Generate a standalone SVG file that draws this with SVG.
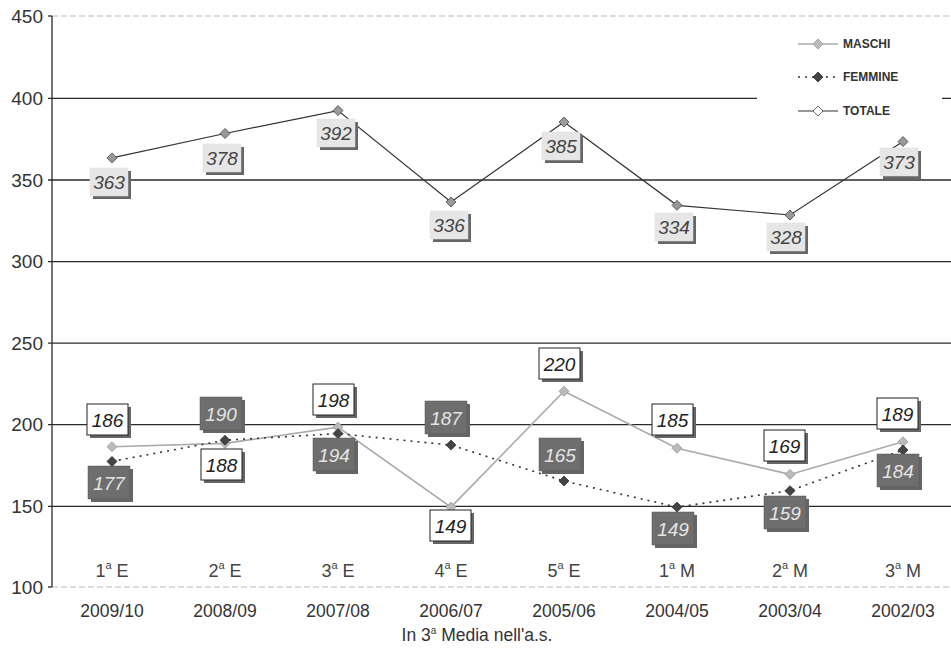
<svg xmlns="http://www.w3.org/2000/svg" width="951" height="648" viewBox="0 0 951 648">
<style>
.grid{stroke:#2a2a2a;stroke-width:1.3;fill:none}
.faint{stroke:#bbb;stroke-width:1;stroke-dasharray:6 3;fill:none}
.ylab{font-family:"Liberation Sans",Arial,sans-serif;font-size:19px;fill:#333;text-anchor:end}
.cat{font-family:"Liberation Sans",Arial,sans-serif;font-size:18px;fill:#444;text-anchor:middle}
.yr{font-family:"Liberation Sans",Arial,sans-serif;font-size:17.5px;fill:#333;text-anchor:middle}
.leg{font-family:"Liberation Sans",Arial,sans-serif;font-size:12px;font-weight:bold;fill:#333}
.val{font-family:"Liberation Sans",Arial,sans-serif;font-size:19px;font-style:italic;text-anchor:middle}
.shadow{fill:#666}
.bt{fill:#e6e6e6;stroke:#ddd;stroke-width:0.5}
.bm{fill:#fff;stroke:#222;stroke-width:1}
.bf{fill:#6e6e6e;stroke:#5a5a5a;stroke-width:0.5}
.tt{fill:#444}
.tm{fill:#222}
.tf{fill:#e4e4e4}
.lt{stroke:#333;stroke-width:1.2;fill:none}
.lm{stroke:#aaa;stroke-width:1.6;fill:none}
.lf{stroke:#333;stroke-width:1.6;stroke-dasharray:2 5;fill:none}
.mt{fill:#999;stroke:#444;stroke-width:0.8}
.mm{fill:#bbb;stroke:#999;stroke-width:0.8}
.mf{fill:#444;stroke:#333;stroke-width:0.8}
</style>
<defs>
<path id="dia" d="M0,-5 L5,0 L0,5 L-5,0 Z"/>
</defs>
<rect x="0" y="0" width="951" height="648" fill="#fff"/>
<g id="axes">
<line class="faint" x1="52" y1="16" x2="951" y2="16"/>
<line class="faint" x1="52" y1="587" x2="951" y2="587"/>
<line class="grid" x1="48" y1="98.4" x2="951" y2="98.4"/>
<line class="grid" x1="48" y1="180" x2="951" y2="180"/>
<line class="grid" x1="48" y1="261.6" x2="951" y2="261.6"/>
<line class="grid" x1="48" y1="343.1" x2="951" y2="343.1"/>
<line class="grid" x1="48" y1="424.7" x2="951" y2="424.7"/>
<line class="grid" x1="48" y1="506.3" x2="951" y2="506.3"/>
<line class="grid" x1="48" y1="16" x2="52" y2="16"/>
<line class="grid" x1="48" y1="587" x2="52" y2="587"/>
<line class="grid" x1="52" y1="16" x2="52" y2="587"/>
<text class="ylab" x="43" y="23">450</text>
<text class="ylab" x="43" y="105">400</text>
<text class="ylab" x="43" y="187">350</text>
<text class="ylab" x="43" y="268">300</text>
<text class="ylab" x="43" y="350">250</text>
<text class="ylab" x="43" y="431">200</text>
<text class="ylab" x="43" y="513">150</text>
<text class="ylab" x="43" y="594">100</text>
<text class="cat" x="112" y="577">1<tspan font-size="11" dy="-8">a</tspan><tspan dy="8"> E</tspan></text>
<text class="cat" x="225" y="577">2<tspan font-size="11" dy="-8">a</tspan><tspan dy="8"> E</tspan></text>
<text class="cat" x="338" y="577">3<tspan font-size="11" dy="-8">a</tspan><tspan dy="8"> E</tspan></text>
<text class="cat" x="451" y="577">4<tspan font-size="11" dy="-8">a</tspan><tspan dy="8"> E</tspan></text>
<text class="cat" x="564" y="577">5<tspan font-size="11" dy="-8">a</tspan><tspan dy="8"> E</tspan></text>
<text class="cat" x="677" y="577">1<tspan font-size="11" dy="-8">a</tspan><tspan dy="8"> M</tspan></text>
<text class="cat" x="790" y="577">2<tspan font-size="11" dy="-8">a</tspan><tspan dy="8"> M</tspan></text>
<text class="cat" x="903" y="577">3<tspan font-size="11" dy="-8">a</tspan><tspan dy="8"> M</tspan></text>
<text class="yr" x="112" y="617">2009/10</text>
<text class="yr" x="225" y="617">2008/09</text>
<text class="yr" x="338" y="617">2007/08</text>
<text class="yr" x="451" y="617">2006/07</text>
<text class="yr" x="564" y="617">2005/06</text>
<text class="yr" x="677" y="617">2004/05</text>
<text class="yr" x="790" y="617">2003/04</text>
<text class="yr" x="903" y="617">2002/03</text>
<text class="yr" x="477" y="641">In 3<tspan font-size="10" dy="-7">a</tspan><tspan dy="7"> Media nell'a.s.</tspan></text>
</g>
<g id="legend">
<rect x="757" y="22" width="185" height="106" fill="#fff"/>
<line class="lm" x1="798" y1="44" x2="838" y2="44"/>
<use href="#dia" x="818" y="44" class="mm"/>
<text class="leg" x="843" y="48">MASCHI</text>
<line class="lf" x1="798" y1="77" x2="838" y2="77"/>
<use href="#dia" x="818" y="77" class="mf"/>
<text class="leg" x="843" y="81">FEMMINE</text>
<line class="lt" x1="798" y1="111" x2="838" y2="111"/>
<use href="#dia" x="818" y="111" fill="#fff" stroke="#444" stroke-width="0.8"/>
<text class="leg" x="843" y="115">TOTALE</text>
</g>
<g id="connectors">
<polyline class="lt" points="112,157.9 225,133.5 338,110.6 451,202 564,122.1 677,205.3 790,215 903,141.6"/>
<polyline class="lm" points="112,446.7 225,443.4 338,427.1 451,507.1 564,391.2 677,448.3 790,474.4 903,441.8"/>
<polyline class="lf" points="112,461.4 225,440.2 338,433.6 451,445.1 564,481 677,507.1 790,490.7 903,450"/>
</g>
<g id="markers">
<use href="#dia" class="mt" x="112" y="157.9"/><use href="#dia" class="mt" x="225" y="133.5"/><use href="#dia" class="mt" x="338" y="110.6"/><use href="#dia" class="mt" x="451" y="202"/><use href="#dia" class="mt" x="564" y="122.1"/><use href="#dia" class="mt" x="677" y="205.3"/><use href="#dia" class="mt" x="790" y="215"/><use href="#dia" class="mt" x="903" y="141.6"/>
<use href="#dia" class="mm" x="112" y="446.7"/><use href="#dia" class="mm" x="225" y="443.4"/><use href="#dia" class="mm" x="338" y="427.1"/><use href="#dia" class="mm" x="451" y="507.1"/><use href="#dia" class="mm" x="564" y="391.2"/><use href="#dia" class="mm" x="677" y="448.3"/><use href="#dia" class="mm" x="790" y="474.4"/><use href="#dia" class="mm" x="903" y="441.8"/>
<use href="#dia" class="mf" x="112" y="461.4"/><use href="#dia" class="mf" x="225" y="440.2"/><use href="#dia" class="mf" x="338" y="433.6"/><use href="#dia" class="mf" x="451" y="445.1"/><use href="#dia" class="mf" x="564" y="481"/><use href="#dia" class="mf" x="677" y="507.1"/><use href="#dia" class="mf" x="790" y="490.7"/><use href="#dia" class="mf" x="903" y="450"/>
</g>
<g id="labels-totale">
<g id="t1"><rect class="shadow" x="93" y="171" width="38" height="28"/><rect class="bt" x="90" y="168" width="38" height="28"/><text class="val tt" x="109" y="189">363</text></g>
<g id="t2"><rect class="shadow" x="206" y="147" width="38" height="28"/><rect class="bt" x="203" y="144" width="38" height="28"/><text class="val tt" x="222" y="165">378</text></g>
<g id="t3"><rect class="shadow" x="320" y="122" width="38" height="28"/><rect class="bt" x="317" y="119" width="38" height="28"/><text class="val tt" x="336" y="140">392</text></g>
<g id="t4"><rect class="shadow" x="433" y="214" width="38" height="28"/><rect class="bt" x="430" y="211" width="38" height="28"/><text class="val tt" x="449" y="232">336</text></g>
<g id="t5"><rect class="shadow" x="545" y="135" width="38" height="28"/><rect class="bt" x="542" y="132" width="38" height="28"/><text class="val tt" x="561" y="153">385</text></g>
<g id="t6"><rect class="shadow" x="658" y="216" width="38" height="28"/><rect class="bt" x="655" y="213" width="38" height="28"/><text class="val tt" x="674" y="234">334</text></g>
<g id="t7"><rect class="shadow" x="770" y="226" width="38" height="28"/><rect class="bt" x="767" y="223" width="38" height="28"/><text class="val tt" x="786" y="244">328</text></g>
<g id="t8"><rect class="shadow" x="883" y="151" width="38" height="28"/><rect class="bt" x="880" y="148" width="38" height="28"/><text class="val tt" x="899" y="169">373</text></g>
</g>
<g id="labels-maschi">
<g id="m1"><rect class="shadow" x="90" y="407" width="41" height="31"/><rect class="bm" x="87" y="404" width="41" height="31"/><text class="val tm" x="107.5" y="426.5">186</text></g>
<g id="m2"><rect class="shadow" x="204" y="452" width="41" height="31"/><rect class="bm" x="201" y="449" width="41" height="31"/><text class="val tm" x="221.5" y="471.5">188</text></g>
<g id="m3"><rect class="shadow" x="316" y="387" width="41" height="31"/><rect class="bm" x="313" y="384" width="41" height="31"/><text class="val tm" x="333.5" y="406.5">198</text></g>
<g id="m4"><rect class="shadow" x="433" y="513" width="41" height="31"/><rect class="bm" x="430" y="510" width="41" height="31"/><text class="val tm" x="450.5" y="532.5">149</text></g>
<g id="m5"><rect class="shadow" x="542" y="351" width="41" height="31"/><rect class="bm" x="539" y="348" width="41" height="31"/><text class="val tm" x="559.5" y="370.5">220</text></g>
<g id="m6"><rect class="shadow" x="655" y="407" width="41" height="31"/><rect class="bm" x="652" y="404" width="41" height="31"/><text class="val tm" x="672.5" y="426.5">185</text></g>
<g id="m7"><rect class="shadow" x="767" y="433" width="41" height="31"/><rect class="bm" x="764" y="430" width="41" height="31"/><text class="val tm" x="784.5" y="452.5">169</text></g>
<g id="m8"><rect class="shadow" x="880" y="401" width="41" height="31"/><rect class="bm" x="877" y="398" width="41" height="31"/><text class="val tm" x="897.5" y="420.5">189</text></g>
</g>
<g id="labels-femmine">
<g id="f1"><rect class="shadow" x="91" y="469" width="42" height="33"/><rect class="bf" x="88" y="466" width="42" height="33"/><text class="val tf" x="109" y="489.5">177</text></g>
<g id="f2"><rect class="shadow" x="203" y="400" width="42" height="33"/><rect class="bf" x="200" y="397" width="42" height="33"/><text class="val tf" x="221" y="420.5">190</text></g>
<g id="f3"><rect class="shadow" x="316" y="441" width="42" height="33"/><rect class="bf" x="313" y="438" width="42" height="33"/><text class="val tf" x="334" y="461.5">194</text></g>
<g id="f4"><rect class="shadow" x="428" y="404" width="42" height="33"/><rect class="bf" x="425" y="401" width="42" height="33"/><text class="val tf" x="446" y="424.5">187</text></g>
<g id="f5"><rect class="shadow" x="542" y="441" width="42" height="33"/><rect class="bf" x="539" y="438" width="42" height="33"/><text class="val tf" x="560" y="461.5">165</text></g>
<g id="f6"><rect class="shadow" x="655" y="515" width="42" height="33"/><rect class="bf" x="652" y="512" width="42" height="33"/><text class="val tf" x="673" y="535.5">149</text></g>
<g id="f7"><rect class="shadow" x="767" y="499" width="42" height="33"/><rect class="bf" x="764" y="496" width="42" height="33"/><text class="val tf" x="785" y="519.5">159</text></g>
<g id="f8"><rect class="shadow" x="880" y="457" width="42" height="33"/><rect class="bf" x="877" y="454" width="42" height="33"/><text class="val tf" x="898" y="477.5">184</text></g>
</g>
</svg>
